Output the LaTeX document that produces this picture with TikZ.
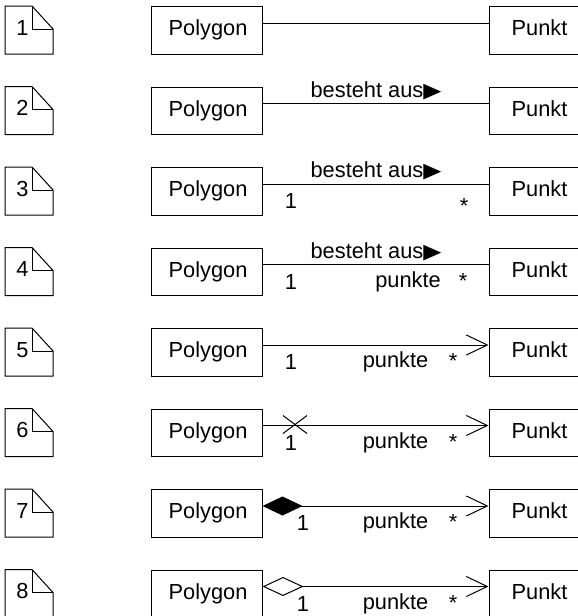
\documentclass[tikz,border=0pt]{standalone}
\usepackage{fontspec}
\setmainfont{Liberation Sans}
\newfontfamily\symfont{DejaVu Sans}
\usetikzlibrary{arrows.meta}
\tikzset{
  lbl/.style={font=\fontsize{21.8}{26}\selectfont, inner sep=0pt, anchor=base},
  clsbox/.style={draw, line width=1pt, font=\fontsize{21.8}{26}\selectfont, inner sep=0pt,
    minimum height=47.5pt, text height=16pt, text depth=4.6pt},
  notebox/.style={line width=1pt},
  assoc/.style={line width=1pt},
  openarr/.style={-{Straight Barb[length=21pt,width=20pt,line width=1pt]}},
}
\newcommand{\triglyph}{{\symfont\fontsize{23.5}{24}\selectfont\scalebox{1}[0.88]{▶}}}
\begin{document}
\begin{tikzpicture}[x=1pt,y=-1pt]
\useasboundingbox (0,0) rectangle (578,616);
\clip (0,0) rectangle (578,616);
\foreach \i in {1,...,8}{
  \pgfmathsetmacro\L{23+80.5*(\i-1)}
  % note icon
  \draw[notebox] (5,\L-17) -- (32,\L-17) -- (53,\L+6) -- (53,\L+31) -- (5,\L+31) -- cycle;
  \draw[notebox] (32,\L-17) -- (32,\L+6) -- (53,\L+6);
  \node[lbl] (n\i) at (22.5,\L+12) {\i};
  % classes
  \node[clsbox, minimum width=111pt] (p\i) at (206.5,\L+7.25) {\hspace*{3pt}Polygon};
  \node[clsbox, minimum width=101pt] (q\i) at (539.5,\L+7.25) {Punkt};
}
% row 1
\draw[assoc] ([yshift=7.25pt]p1.east) -- ([yshift=7.25pt]q1.west);
% row 2
\draw[assoc] ([yshift=7.25pt]p2.east) -- ([yshift=7.25pt]q2.west);
\node[lbl] (r2) at (376,103.5-6.5) {besteht aus\triglyph};
% row 3
\draw[assoc] ([yshift=7.25pt]p3.east) -- ([yshift=7.25pt]q3.west);
\node[lbl] (r3) at (376,184-6.5) {besteht aus\triglyph};
\node[lbl] (m3a) at (291,184+24.5) {1};
\node[lbl] (m3b) at (464,184+29) {*};
% row 4
\draw[assoc] ([yshift=7.25pt]p4.east) -- ([yshift=7.25pt]q4.west);
\node[lbl] (r4) at (376,264.5-6.5) {besteht aus\triglyph};
\node[lbl] (m4a) at (291,264.5+24.5) {1};
\node[lbl] (e4) at (408,264.5+22.5) {punkte};
\node[lbl] (m4b) at (463,264.5+23.5) {*};
% row 5
\draw[assoc,openarr] ([yshift=7.25pt]p5.east) -- ([yshift=7.25pt]q5.west);
\node[lbl] (m5a) at (291,345+24.5) {1};
\node[lbl] (e5) at (395.5,345+22.5) {punkte};
\node[lbl] (m5b) at (453,345+23.5) {*};
% row 6
\draw[assoc,openarr] ([yshift=7.25pt]p6.east) -- ([yshift=7.25pt]q6.west);
\draw[assoc] (283,425.5-10) -- (307,425.5+8);
\draw[assoc] (283,425.5+8) -- (307,425.5-10);
\node[lbl] (m6a) at (291,425.5+24.5) {1};
\node[lbl] (e6) at (395.5,425.5+22.5) {punkte};
\node[lbl] (m6b) at (453,425.5+23.5) {*};
% row 7
\draw[assoc,{Diamond[length=40pt,width=19pt]}-{Straight Barb[length=21pt,width=20pt,line width=1pt]}] ([yshift=7.25pt]p7.east) -- ([yshift=7.25pt]q7.west);
\node[lbl] (m7a) at (303,506+24.5) {1};
\node[lbl] (e7) at (395.5,506+22.5) {punkte};
\node[lbl] (m7b) at (453,506+23.5) {*};
% row 8
\draw[assoc,{Diamond[open,length=41pt,width=19pt]}-{Straight Barb[length=21pt,width=20pt,line width=1pt]}] ([yshift=7.25pt]p8.east) -- ([yshift=7.25pt]q8.west);
\node[lbl] (m8a) at (303,586.5+24.5) {1};
\node[lbl] (e8) at (395.5,586.5+22.5) {punkte};
\node[lbl] (m8b) at (453,586.5+23.5) {*};
\end{tikzpicture}
\end{document}
